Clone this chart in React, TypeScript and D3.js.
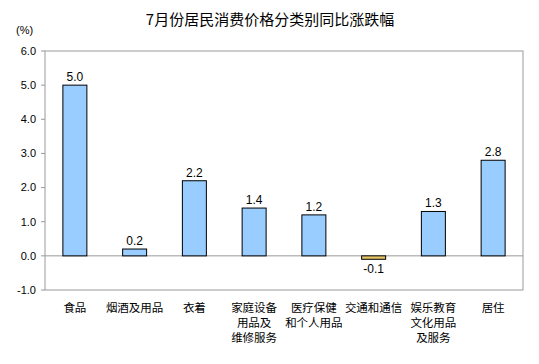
import * as d3 from 'd3';

const categories = [
  ['食品'],
  ['烟酒及用品'],
  ['衣着'],
  ['家庭设备', '用品及', '维修服务'],
  ['医疗保健', '和个人用品'],
  ['交通和通信'],
  ['娱乐教育', '文化用品', '及服务'],
  ['居住'],
];
const values = [5.0, 0.2, 2.2, 1.4, 1.2, -0.1, 1.3, 2.8];
const yTicks = [-1, 0, 1, 2, 3, 4, 5, 6];

const W = 539;
const H = 364;
const left = 45;
const right = 523;
const top = 51;
const bottom = 290;

const latin = '"Liberation Sans", Arial, sans-serif';
const cjk = '"Noto Sans CJK SC", sans-serif';

export default function App() {
  const x = d3
    .scaleBand<number>()
    .domain(d3.range(values.length))
    .range([left, right])
    .paddingInner(0.6)
    .paddingOuter(0.3);
  const y = d3.scaleLinear().domain([-1, 6]).range([bottom, top]);
  const bw = 24;

  return (
    <svg
      width={W}
      height={H}
      style={{ position: 'absolute', left: 0, top: 0, background: '#fff' }}
    >
      <text
        x={270}
        y={25}
        textAnchor="middle"
        fontSize={15}
        fontFamily={cjk}
        fill="#000"
      >
        7月份居民消费价格分类别同比涨跌幅
      </text>
      <text x={16} y={34} fontSize={11} fontFamily={latin} fill="#000">
        (%)
      </text>

      <rect
        x={left}
        y={top}
        width={right - left}
        height={bottom - top}
        fill="none"
        stroke="#999"
      />
      <line x1={left} x2={right} y1={y(0)} y2={y(0)} stroke="#999" />

      {yTicks.map((t) => (
        <g key={t}>
          <line x1={left - 4} x2={left} y1={y(t)} y2={y(t)} stroke="#999" />
          <text
            x={36}
            y={y(t)}
            dy="0.35em"
            textAnchor="end"
            fontSize={11}
            fontFamily={latin}
            fill="#000"
          >
            {t.toFixed(1)}
          </text>
        </g>
      ))}

      {values.map((v, i) => {
        const cx = x(i)! + x.bandwidth() / 2;
        const y0 = y(Math.max(0, v));
        const y1 = y(Math.min(0, v));
        return (
          <g key={i}>
            <rect
              x={cx - bw / 2}
              y={y0}
              width={bw}
              height={y1 - y0}
              fill={v < 0 ? '#E8C86A' : '#99CCFF'}
              stroke="#000"
              strokeWidth={1}
            />
            <text
              x={cx}
              y={v < 0 ? y1 + 14 : y0 - 4}
              textAnchor="middle"
              fontSize={12}
              fontFamily={latin}
              fill="#000"
            >
              {v.toFixed(1)}
            </text>
            {categories[i].map((line, j) => (
              <text
                key={j}
                x={cx}
                y={312 + j * 15}
                textAnchor="middle"
                fontSize={11.5}
                fontFamily={cjk}
                fill="#000"
              >
                {line}
              </text>
            ))}
          </g>
        );
      })}
    </svg>
  );
}
